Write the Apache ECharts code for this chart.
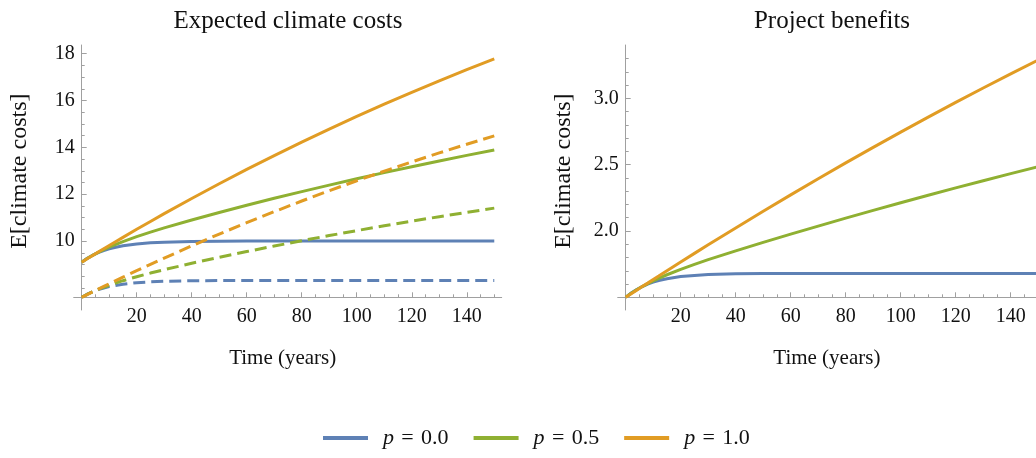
<!DOCTYPE html>
<html><head><meta charset="utf-8">
<script src="https://cdn.jsdelivr.net/npm/echarts@6/dist/echarts.min.js"></script>
<style>html,body{margin:0;padding:0;background:#fff}#c{width:1036px;height:458px}</style>
</head><body><div id="c"></div>
<script>
// ---- data ----
const years = [0,2,4,6,8,10,12,15,20,25,30,40,50,60,70,80,90,100,110,120,130,140,150];
const seriesNames = ['p = 0.0','p = 0.5','p = 1.0'];
// Expected climate costs, solid (without project)
const costSolidP0 = [9.100,9.263,9.397,9.506,9.596,9.669,9.729,9.799,9.878,9.926,9.955,9.984,9.994,9.998,9.999,10.0,10.0,10.0,10.0,10.0,10.0,10.0,10.0];
const costSolidP5 = [9.100,9.254,9.392,9.518,9.634,9.740,9.840,9.979,10.190,10.382,10.563,10.902,11.221,11.528,11.825,12.112,12.390,12.660,12.921,13.175,13.421,13.659,13.890];
const costSolidP10 = [9.100,9.244,9.387,9.530,9.671,9.811,9.951,10.159,10.502,10.838,11.170,11.819,12.448,13.058,13.650,14.223,14.780,15.319,15.842,16.349,16.841,17.318,17.780];
// Expected climate costs, dashed (with project)
const costDashP0 = [7.600,7.731,7.837,7.925,7.996,8.055,8.103,8.159,8.223,8.261,8.284,8.307,8.315,8.318,8.319,8.320,8.320,8.320,8.320,8.320,8.320,8.320,8.320];
const costDashP5 = [7.600,7.724,7.835,7.937,8.030,8.116,8.197,8.309,8.480,8.634,8.779,9.052,9.307,9.552,9.788,10.015,10.235,10.447,10.652,10.850,11.042,11.227,11.406];
const costDashP10 = [7.600,7.717,7.833,7.949,8.064,8.177,8.291,8.459,8.736,9.007,9.274,9.796,10.299,10.786,11.256,11.710,12.150,12.574,12.984,13.380,13.763,14.134,14.491];
// Project benefits
const benefitP0 = [1.500,1.533,1.559,1.581,1.599,1.614,1.626,1.640,1.656,1.665,1.671,1.677,1.679,1.680,1.680,1.680,1.680,1.680,1.680,1.680,1.680,1.680,1.680];
const benefitP5 = [1.500,1.530,1.557,1.581,1.603,1.624,1.643,1.670,1.711,1.748,1.784,1.850,1.914,1.976,2.037,2.097,2.155,2.213,2.269,2.325,2.379,2.432,2.485];
const benefitP10 = [1.500,1.527,1.554,1.581,1.607,1.634,1.660,1.700,1.766,1.831,1.896,2.023,2.149,2.272,2.394,2.513,2.630,2.745,2.858,2.969,3.078,3.184,3.289];
// tick labels
const xMajorTicks = [20,40,60,80,100,120,140];
const xMinorTicks = [5,10,15,25,30,35,45,50,55,65,70,75,85,90,95,105,110,115,125,130,135,145,150];
const yLeftMajor = [10,12,14,16,18];
const yLeftMinor = [8,8.5,9,9.5,10.5,11,11.5,12.5,13,13.5,14.5,15,15.5,16.5,17,17.5];
const yRightMajor = [2.0,2.5,3.0];
const yRightMinor = [1.6,1.7,1.8,1.9,2.1,2.2,2.3,2.4,2.6,2.7,2.8,2.9,3.1,3.2,3.3];

// ---- styling ----
const FONT = 'Liberation Serif';
const AXIS_COLOR = '#a0a0a0';
const colors = ['#5E81B5','#8FB032','#E19C24'];
const pair = (arr) => years.map((t,i) => [t, arr[i]]);

const chart = echarts.init(document.getElementById('c'), null, {renderer:'canvas'});

function majorX(grid, max, nameShift){
  return {type:'value', gridIndex:grid, min:0, max:max, position:'bottom',
    axisLine:{show:false}, splitLine:{show:false},
    axisTick:{show:true, inside:true, length:5, customValues:xMajorTicks, lineStyle:{color:AXIS_COLOR}},
    axisLabel:{show:true, customValues:xMajorTicks, margin:9, color:'#111', fontFamily:FONT, fontSize:20},
    name:'Time (years)', nameLocation:'middle', nameGap:51,
    nameTextStyle:{fontFamily:FONT, fontSize:21, color:'#111', padding:[0,nameShift,0,0]}};
}
function minorX(grid, max){
  return {type:'value', gridIndex:grid, min:0, max:max, position:'bottom',
    axisLine:{show:false}, splitLine:{show:false}, axisLabel:{show:false},
    axisTick:{show:true, inside:true, length:3, customValues:xMinorTicks, lineStyle:{color:AXIS_COLOR}}};
}
function lineOnlyX(grid){
  return {type:'value', gridIndex:grid, min:0, max:1, position:'bottom',
    axisLine:{show:true, lineStyle:{color:AXIS_COLOR, width:1}}, splitLine:{show:false},
    axisTick:{show:false}, axisLabel:{show:false}};
}
function hiddenAxis(grid){
  return {type:'value', gridIndex:grid, min:0, max:1, show:false};
}
function lineOnlyY(grid){
  return {type:'value', gridIndex:grid, min:0, max:1, position:'left',
    axisLine:{show:true, lineStyle:{color:AXIS_COLOR, width:1}}, splitLine:{show:false},
    axisTick:{show:false}, axisLabel:{show:false}};
}
function majorY(grid, min, max, ticks, fmt){
  return {type:'value', gridIndex:grid, min:min, max:max, position:'left',
    axisLine:{show:false}, splitLine:{show:false},
    axisTick:{show:true, inside:true, length:5, customValues:ticks, lineStyle:{color:AXIS_COLOR}},
    axisLabel:{show:true, customValues:ticks, margin:7, color:'#111', fontFamily:FONT, fontSize:20, formatter:fmt},
    name:'E[climate costs]', nameLocation:'middle', nameGap:50,
    nameTextStyle:{fontFamily:FONT, fontSize:24, color:'#111'}};
}
function minorY(grid, min, max, ticks){
  return {type:'value', gridIndex:grid, min:min, max:max, position:'left',
    axisLine:{show:false}, splitLine:{show:false}, axisLabel:{show:false},
    axisTick:{show:true, inside:true, length:3, customValues:ticks, lineStyle:{color:AXIS_COLOR}}};
}

function lineSeries(name, arr, color, dashed, xi, yi){
  return {type:'line', name:name, xAxisIndex:xi, yAxisIndex:yi, data:pair(arr),
    symbol:'none', smooth:false, clip:true, animation:false,
    lineStyle:{color:color, width:3, type: dashed ? [12,6] : 'solid', cap:'butt'},
    itemStyle:{color:color}};
}

const gridBase = {containLabel:false, outerBoundsMode:'none'};
const option = {
  animation:false,
  backgroundColor:'#fff',
  title:[
    {text:'Expected climate costs', left:283, top:4, textAlign:'center',
     textStyle:{fontFamily:FONT, fontSize:25, fontWeight:'normal', color:'#111'}},
    {text:'Project benefits', left:827, top:4, textAlign:'center',
     textStyle:{fontFamily:FONT, fontSize:25, fontWeight:'normal', color:'#111'}}
  ],
  legend:{
    data:seriesNames, left:323, top:427, orient:'horizontal', padding:0,
    icon:'rect', itemWidth:45, itemHeight:4, itemGap:25,
    formatter:(n)=>'{i|p}\u2004=\u2004' + n.slice(4),
    textStyle:{fontFamily:FONT, fontSize:22, color:'#111', padding:[0,0,0,10],
      rich:{i:{fontFamily:FONT, fontSize:22, fontStyle:'italic', color:'#111'}}}
  },
  grid:[
    Object.assign({left:81.7, top:45, width:420, height:252.3}, gridBase),
    Object.assign({left:73.7, top:45, width:428, height:252.3}, gridBase),
    Object.assign({left:81.7, top:45, width:420, height:265}, gridBase),
    Object.assign({left:625.7, top:45, width:410.3, height:252.3}, gridBase),
    Object.assign({left:617.7, top:45, width:418.3, height:252.3}, gridBase),
    Object.assign({left:625.7, top:45, width:410.3, height:265}, gridBase)
  ],
  xAxis:[
    majorX(0, 152.7, 18), minorX(0, 152.7), lineOnlyX(1), hiddenAxis(2),
    majorX(3, 149.2, 8), minorX(3, 149.2), lineOnlyX(4), hiddenAxis(5)
  ],
  yAxis:[
    majorY(0, 7.6, 18.37, yLeftMajor, (v)=>String(v)), minorY(0, 7.6, 18.37, yLeftMinor), hiddenAxis(1), lineOnlyY(2),
    majorY(3, 1.5, 3.402, yRightMajor, (v)=>Number(v).toFixed(1)), minorY(3, 1.5, 3.402, yRightMinor), hiddenAxis(4), lineOnlyY(5)
  ],
  series:[
    lineSeries(seriesNames[0], costSolidP0, colors[0], false, 0, 0),
    lineSeries(seriesNames[1], costSolidP5, colors[1], false, 0, 0),
    lineSeries(seriesNames[2], costSolidP10, colors[2], false, 0, 0),
    lineSeries(seriesNames[0], costDashP0, colors[0], true, 0, 0),
    lineSeries(seriesNames[1], costDashP5, colors[1], true, 0, 0),
    lineSeries(seriesNames[2], costDashP10, colors[2], true, 0, 0),
    lineSeries(seriesNames[0], benefitP0, colors[0], false, 4, 4),
    lineSeries(seriesNames[1], benefitP5, colors[1], false, 4, 4),
    lineSeries(seriesNames[2], benefitP10, colors[2], false, 4, 4)
  ]
};
chart.setOption(option);
</script>
</body></html>
